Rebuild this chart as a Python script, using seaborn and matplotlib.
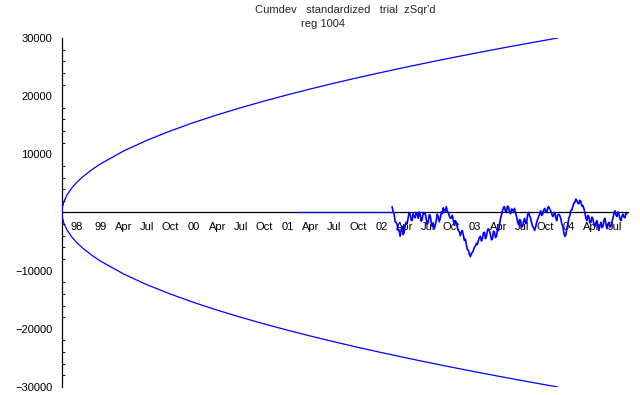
import pandas as pd
import numpy as np
import matplotlib
matplotlib.use('Agg')
import matplotlib.pyplot as plt
import seaborn as sns

# Origin of the record (day 0)
origin = pd.Timestamp('1998-08-04')

# Quarter ticks on the date axis
tick_dates = ['1998-10-01', '1999-01-01', '1999-04-01', '1999-07-01', '1999-10-01',
              '2000-01-01', '2000-04-01', '2000-07-01', '2000-10-01',
              '2001-01-01', '2001-04-01', '2001-07-01', '2001-10-01',
              '2002-01-01', '2002-04-01', '2002-07-01', '2002-10-01',
              '2003-01-01', '2003-04-01', '2003-07-01', '2003-10-01',
              '2004-01-01', '2004-04-01', '2004-07-01']
tick_labels = ['98', '99', 'Apr', 'Jul', 'Oct',
               '00', 'Apr', 'Jul', 'Oct',
               '01', 'Apr', 'Jul', 'Oct',
               '02', 'Apr', 'Jul', 'Oct',
               '03', 'Apr', 'Jul', 'Oct',
               '04', 'Apr', 'Jul']

# Probability envelope (days since origin, upper value)
env_days = [0, 2, 8, 20, 40, 58, 80, 120, 150, 241, 331, 423, 515, 606, 696, 788,
            880, 971, 1061, 1153, 1245, 1336, 1426, 1518, 1610, 1701, 1791, 1883, 1933]
env_vals = [0, 965, 1930, 3052, 4316, 5196, 6103, 7475, 8355, 10593, 12410, 14033,
            15485, 16800, 18001, 19155, 20242, 21262, 22230, 23175, 24076, 24940,
            25767, 26585, 27380, 28143, 28878, 29610, 30000]

# Cumulative deviation (thousands), flat zero before data start
flat_days = [920, 1287]
flat_vals = [0, 0]
walk_start, walk_end = 1287, 2203
walk_vals = [1.0, 0.2, -0.3, -1.5, -1.7, -2.0, -3.1, -3.0, -4.1, -3.0,
             -2.4, -3.8, -3.4, -2.2, -1.7, -1.9, -1.0, 0.0, -0.3, -1.3,
             -1.4, -0.2, -0.7, -0.9, 0.0, -0.2, -1.0, 0.1, -0.3, -1.5,
             -1.2, 0.0, -0.2, -0.1, -1.0, -2.0, -1.7, -0.4, -0.5, -1.8,
             -2.4, -1.9, -2.8, -2.2, -1.4, -0.3, -0.7, -1.6, -1.0, 0.1,
             -0.2, 0.8, 0.3, 0.2, 1.0, 0.2, 0.0, -0.6, -1.0, -0.9,
             -0.5, -1.4, -2.2, -1.4, -1.7, -2.6, -3.1, -3.3, -4.0, -3.4,
             -3.1, -3.9, -4.8, -4.6, -5.5, -6.4, -6.5, -7.2, -7.6, -7.0,
             -6.9, -6.5, -6.0, -5.8, -5.3, -5.5, -4.8, -4.3, -4.1, -4.9,
             -4.5, -3.5, -3.4, -4.5, -4.1, -3.0, -2.8, -3.2, -3.8, -4.7,
             -4.5, -3.2, -3.4, -4.3, -4.1, -2.9, -3.1, -2.0, -1.0, -0.4,
             0.3, 0.9, 1.0, 0.1, 0.2, 1.1, 0.9, 0.1, -0.2, 0.6,
             0.5, 0.1, 0.7, -0.1, -0.7, -1.6, -2.1, -1.2, -1.4, -2.5,
             -2.4, -1.6, -1.0, -1.9, -1.7, -0.4, 0.0, -0.6, -1.0, -1.8,
             -2.4, -2.6, -3.1, -2.5, -1.7, -1.2, -0.7, -0.3, 0.3, -0.5,
             -0.3, 0.4, 0.7, 0.2, 0.0, 0.8, 1.0, 0.6, 0.3, -0.2,
             -0.7, -0.4, 0.0, -0.9, -1.4, -0.4, -0.3, -0.5, -1.0, -1.9,
             -2.4, -3.4, -4.1, -3.9, -2.8, -2.1, -1.0, -0.6, 0.3, 0.4,
             1.0, 1.6, 1.7, 2.3, 2.1, 1.6, 1.5, 2.1, 1.9, 1.1,
             1.2, 0.7, 0.0, -1.0, -1.4, -0.5, -0.7, -1.8, -1.7, -0.8,
             -1.0, -2.1, -2.4, -1.7, -1.4, -2.3, -3.1, -2.2, -1.7, -2.6,
             -2.4, -1.3, -1.0, -2.0, -2.8, -2.0, -1.7, -2.5, -2.4, -1.6,
             -1.0, -0.2, 0.3, -0.4, -0.7, 0.1, -0.3, -1.1, -1.4, -0.6,
             -0.3, -0.8, -0.9, -0.1, -0.2]

tick_pos = [(pd.Timestamp(d) - origin).days for d in tick_dates]
walk_days = np.linspace(walk_start, walk_end, len(walk_vals))

sns.set_style('white')
plt.rcParams['font.family'] = ['Liberation Sans', 'DejaVu Sans']

fig = plt.figure(figsize=(6.4, 3.95), dpi=100)
ax = fig.add_axes([0.0969, 0.0203, 0.8844, 0.8835])

blue = '#0000ff'
sns.lineplot(x=env_days, y=env_vals, color=blue, lw=0.9, ax=ax, zorder=3)
sns.lineplot(x=env_days, y=[-v for v in env_vals], color=blue, lw=0.9, ax=ax, zorder=3)
sns.lineplot(x=flat_days, y=flat_vals, color=blue, lw=0.9, ax=ax, zorder=3)
sns.lineplot(x=walk_days, y=[v * 1000 for v in walk_vals], color=blue, lw=1.2,
             ax=ax, zorder=4, sort=False, estimator=None)

ax.set_xlim(0, 2207)
ax.set_ylim(-30000, 30000)

for s in ['top', 'right']:
    ax.spines[s].set_visible(False)
ax.spines['bottom'].set_position(('data', 0))
ax.spines['left'].set_position(('data', 0))
for s in ['bottom', 'left']:
    ax.spines[s].set_color('black')
    ax.spines[s].set_linewidth(0.9)

ax.set_xticks(tick_pos)
ax.set_xticklabels(tick_labels)
ax.set_yticks([-30000, -20000, -10000, 10000, 20000, 30000])
ax.set_yticklabels(['\u221230000', '\u221220000', '\u221210000', '10000', '20000', '30000'])
ax.set_yticks(np.arange(-30000, 30001, 2000), minor=True)
ax.tick_params(axis='x', direction='in', length=4, width=0.8, pad=7, labelsize=8, colors='black')
ax.tick_params(axis='y', which='major', direction='in', length=5, width=0.8, pad=7, labelsize=8, colors='black')
ax.tick_params(axis='y', which='minor', direction='in', length=2.5, width=0.8, left=True)
ax.set_xlabel('')
ax.set_ylabel('')

fig.text(0.54, 0.975, "Cumdev   standardized   trial  zSqr'd", ha='center', va='center', fontsize=8)
fig.text(0.504, 0.94, 'reg 1004', ha='center', va='center', fontsize=8)

fig.savefig('out.png', dpi=100)
